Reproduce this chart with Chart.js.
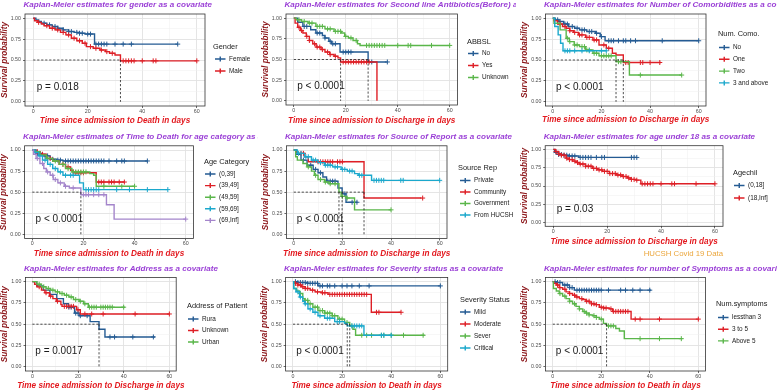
<!DOCTYPE html>
<html>
<head>
<meta charset="utf-8">
<script src="https://cdn.jsdelivr.net/npm/chart.js@4/dist/chart.umd.min.js"></script>
<style>
  body { margin: 0; background: #fff; }
  #board { position: relative; width: 777px; height: 392px; overflow: hidden; }
  .panel { position: absolute; }
</style>
</head>
<body>
<div id="board"></div>
<script>
// Kaplan-Meier panels (HUCSH Covid 19 data)

const FONT = '"Liberation Sans", Arial, sans-serif';
const BLUE = '#245b93', RED = '#de1f26', GREEN = '#5ab64a', TEAL = '#1ba8cc', PURPLE = '#a485cb';

// axis ticks
const xTicks = [0, 10, 20, 30, 40, 50, 60];
const xTickLabels = ['0', '', '20', '', '40', '', '60'];
const yTicks = [0, 0.125, 0.25, 0.375, 0.5, 0.625, 0.75, 0.875, 1];
const yTickLabels = ['0.00', '', '0.25', '', '0.50', '', '0.75', '', '1.00'];

// ---- gender ----
const genderLabels = ['Female', 'Male'];
const genderFemale = [[0,1],[1,0.98],[2,0.96],[3,0.94],[5,0.92],[7,0.9],[9,0.88],[11,0.86],[13,0.84],[15,0.83],[17,0.82],[19,0.81],[22.5,0.69],[53,0.69]];
const genderFemaleCens = [4, 6, 8, 9, 11, 13, 14, 16, 17, 18, 20, 21, 23, 24, 25, 26, 27, 30, 33, 36, 53];
const genderMale = [[0,1],[0.5,0.97],[1.5,0.95],[3,0.93],[4,0.91],[6,0.88],[8,0.86],[10,0.83],[12,0.8],[14,0.76],[16,0.73],[18,0.7],[19.5,0.66],[22,0.64],[24.5,0.62],[26.5,0.6],[28,0.58],[30,0.56],[32,0.49],[60,0.49]];
const genderMaleCens = [2, 5, 7, 9, 11, 13, 15, 17, 19, 21, 23, 25, 27, 29, 33, 34, 35, 36, 37, 40, 44, 45, 60];
const genderMedians = [32];

// ---- second line antibiotics ----
const abbslLabels = ['No', 'Yes', 'Unknown'];
const abbslNo = [[0,1],[1.5,0.95],[3.5,0.9],[6.5,0.86],[8.5,0.82],[11,0.79],[12,0.76],[13.5,0.72],[14.5,0.69],[17.8,0.59],[28.6,0.47],[35.8,0.47]];
const abbslNoCens = [4, 5, 9, 10, 12, 14, 15, 16, 19, 20, 21, 22, 30, 36];
const abbslYes = [[0,1],[0.5,0.94],[1.5,0.89],[2.5,0.85],[3.5,0.82],[4.8,0.78],[6,0.73],[7.3,0.69],[8.6,0.65],[10.5,0.62],[12,0.59],[13.8,0.56],[15.5,0.54],[17,0.52],[18,0.47],[32,0]];
const abbslYesCens = [2, 3, 5, 6, 8, 9, 10, 11, 13, 14, 16, 19, 20, 21, 22, 23, 24, 25, 26, 27, 28, 29];
const abbslUnknown = [[0,1],[1,0.98],[3,0.96],[5.5,0.94],[8.5,0.9],[12,0.87],[15.5,0.84],[18.3,0.82],[19.6,0.78],[21,0.76],[22.8,0.73],[24.5,0.69],[25.5,0.67],[60,0.67]];
const abbslUnknownCens = [2, 4, 6, 7, 9, 10, 11, 13, 14, 16, 17, 18, 20, 22, 24, 28, 29, 30, 31, 32, 33, 34, 35, 40, 44, 45, 53, 60];
const abbslMedians = [18, 28.6];

// ---- number of comorbidities ----
const comoLabels = ['No', 'One', 'Two', '3 and above'];
const comoNo = [[0,1],[1,0.98],[2.5,0.96],[4.5,0.93],[6.5,0.9],[9,0.88],[11,0.86],[14,0.84],[17.5,0.82],[19.5,0.78],[21.5,0.73],[60,0.73]];
const comoNoCens = [2, 3, 5, 6, 8, 10, 12, 13, 15, 16, 18, 20, 23, 24, 25, 27, 29, 30, 32, 34, 45, 60];
const comoOne = [[0,1],[0.5,0.97],[2,0.93],[4,0.9],[5.5,0.88],[7,0.85],[8.5,0.83],[10.5,0.8],[13.5,0.77],[16.5,0.74],[19,0.68],[22,0.64],[24.5,0.58],[26,0.56],[29,0.47],[44.5,0.47]];
const comoOneCens = [3, 5, 7, 9, 11, 12, 14, 15, 17, 18, 21, 23, 30, 31, 36, 37, 40, 44];
const comoTwo = [[0,1],[0.5,0.94],[3,0.86],[5.5,0.76],[6.8,0.72],[8.8,0.68],[11,0.66],[13.5,0.62],[16.5,0.58],[19,0.55],[26,0.48],[31.5,0.32],[53,0.32]];
const comoTwoCens = [6, 7, 9, 10, 12, 13, 14, 15, 17, 18, 20, 21, 22, 23, 24, 27, 28, 36, 53];
const comoThree = [[0,1],[0.8,0.9],[2.2,0.8],[3.2,0.7],[4.2,0.61],[22,0.61]];
const comoThreeCens = [5, 6, 7, 9, 12, 15, 20, 22];
const comoMedians = [26, 29];

// ---- age category ----
const ageLabels = ['(0,39]', '(39,49]', '(49,59]', '(59,69]', '(69,Inf]'];
const ageA = [[0,1],[1.5,0.96],[4,0.93],[7,0.89],[9.5,0.88],[12,0.87],[45,0.87]];
const ageACens = [2, 3, 5, 6, 8, 10, 11, 13, 14, 15, 16, 17, 18, 19, 20, 21, 22, 23, 24, 25, 26, 27, 28, 30, 33, 35, 36, 45];
const ageB = [[0,1],[1,0.98],[3,0.95],[5.5,0.9],[8,0.87],[10.5,0.83],[13,0.8],[15,0.76],[16,0.73],[25,0.62],[36,0.62]];
const ageBCens = [2, 4, 7, 12, 14, 17, 18, 19, 20, 26, 27, 28, 30, 31, 32, 34, 36];
const ageC = [[0,1],[1,0.98],[3,0.94],[5.5,0.9],[8,0.87],[10.5,0.83],[13,0.78],[15.5,0.74],[22.5,0.72],[24,0.7],[25,0.57],[40,0.57]];
const ageCCens = [6, 9, 12, 14, 16, 17, 18, 19, 20, 21, 28, 35, 40];
const ageD = [[0,1],[1,0.97],[2.5,0.93],[4,0.88],[6,0.83],[8,0.78],[10,0.74],[12,0.7],[18.5,0.61],[20,0.53],[53,0.53]];
const ageDCens = [3, 5, 7, 9, 11, 13, 15, 16, 21, 22, 23, 24, 25, 26, 33, 38, 45, 53];
const ageE = [[0,1],[0.5,0.95],[1.5,0.9],[3,0.84],[4.5,0.78],[5.5,0.74],[7,0.7],[8.2,0.65],[10,0.61],[12.5,0.57],[14.5,0.55],[19,0.47],[29,0.35],[32,0.18],[60,0.18]];
const ageECens = [2, 4, 6, 8, 9, 11, 13, 16, 20, 21, 22, 24, 26, 28, 60];
const ageMedians = [19];

// ---- source of report ----
const srcLabels = ['Private', 'Community', 'Government', 'From HUCSH'];
const srcPrivate = [[0,1],[1,0.95],[3,0.88],[5.5,0.82],[8,0.77],[10,0.73],[12,0.68],[13.5,0.63],[18.2,0.55],[19.9,0.48],[21.5,0.38],[26.2,0.38]];
const srcPrivateCens = [4, 7, 9, 11, 14, 15, 16, 17, 21, 24, 26];
const srcCommunity = [[0,1],[1,0.96],[4.5,0.92],[6,0.86],[28.9,0.43],[52.5,0.43]];
const srcCommunityCens = [3, 4, 10, 11, 12, 13, 14, 15, 16, 18, 19, 20, 53];
const srcGov = [[0,1],[0.8,0.92],[1.5,0.88],[3.8,0.84],[5.5,0.8],[7.3,0.75],[8.5,0.7],[10,0.65],[12.7,0.62],[14.5,0.6],[18.6,0.5],[19.5,0.45],[21.5,0.43],[25,0.29],[40,0.29]];
const srcGovCens = [6, 9, 11, 13, 15, 17, 20, 22, 40];
const srcHucsh = [[0,1],[1.5,0.96],[4.5,0.92],[7.3,0.88],[10,0.85],[12.7,0.82],[16,0.8],[19.5,0.77],[22,0.75],[25,0.72],[26.5,0.7],[32,0.64],[60,0.64]];
const srcHucshCens = [2, 3, 5, 6, 8, 9, 11, 13, 14, 15, 17, 18, 20, 21, 23, 24, 27, 28, 33, 34, 35, 36, 37, 44, 45, 60];
const srcMedians = [18.6, 19.9, 28.9];

// ---- age under 18 ----
const chilLabels = ['(0,18]', '(18,Inf]'];
const chilYoung = [[0,1],[0.5,0.96],[2,0.93],[4,0.92],[5.5,0.91],[9.5,0.89],[31,0.89]];
const chilYoungCens = [1, 2, 3, 4, 5, 6, 7, 8, 10, 11, 12, 13, 14, 16, 18, 19, 29, 30, 31];
const chilAdult = [[0,1],[0.8,0.97],[2,0.94],[3,0.92],[4.7,0.88],[6,0.86],[7.2,0.84],[8.5,0.82],[9.6,0.8],[12,0.77],[14.5,0.74],[16.5,0.72],[18.3,0.7],[20.8,0.67],[23.3,0.65],[25.7,0.63],[27.5,0.61],[28.8,0.59],[30.7,0.58],[32.5,0.53],[60,0.53]];
const chilAdultCens = [1, 2, 3, 4, 5, 6, 7, 8, 9, 10, 11, 12, 13, 14, 15, 16, 17, 18, 19, 20, 21, 22, 23, 24, 25, 26, 27, 28, 29, 30, 31, 33, 34, 35, 36, 37, 40, 44, 45, 53, 60];
const chilMedians = [];

// ---- address ----
const addrLabels = ['Rura', 'Unknown', 'Urban'];
const addrRura = [[0,1],[1.9,0.95],[4.8,0.9],[7.7,0.85],[10.7,0.8],[13.6,0.74],[15.8,0.7],[18.5,0.63],[20.5,0.6],[25.3,0.53],[29.2,0.44],[31.8,0.35],[53.7,0.35]];
const addrRuraCens = [16, 17, 19, 20, 21, 24, 34, 36, 44, 53];
const addrUnknown = [[0,1],[1,0.97],[2,0.94],[4,0.9],[5.5,0.87],[7.5,0.83],[9,0.8],[10.5,0.77],[12.5,0.73],[13,0.71],[19.4,0.67],[21,0.62],[60,0.62]];
const addrUnknownCens = [3, 6, 8, 11, 14, 15, 16, 17, 18, 20, 23, 26, 31, 45, 60];
const addrUrban = [[0,1],[2,0.97],[4,0.94],[6,0.92],[8,0.9],[10,0.88],[12,0.86],[14,0.84],[16,0.82],[18,0.79],[20.5,0.77],[22.5,0.74],[24.5,0.7],[40.5,0.7]];
const addrUrbanCens = [3, 5, 7, 9, 11, 13, 15, 17, 19, 21, 23, 25, 26, 27, 28, 30, 31, 32, 33, 34, 35, 40];
const addrMedians = [29.2];

// ---- severity ----
const sevLabels = ['Mild', 'Moderate', 'Sever', 'Critical'];
const sevMild = [[0,1],[2,0.99],[6,0.98],[10.2,0.95],[60,0.95]];
const sevMildCens = [1, 2, 3, 4, 5, 6, 7, 8, 9, 10, 11, 12, 14, 15, 17, 20, 22, 24, 27, 31, 60];
const sevModerate = [[0,1],[0.7,0.98],[2,0.96],[3.4,0.94],[5,0.92],[7,0.9],[9,0.88],[11.5,0.87],[14.3,0.85],[31.9,0.64],[44,0.64]];
const sevModerateCens = [1, 2, 3, 4, 5, 6, 8, 10, 12, 13, 15, 16, 17, 18, 19, 20, 21, 22, 23, 24, 25, 26, 27, 28, 29, 30, 34, 35, 44];
const sevSever = [[0,1],[0.3,0.92],[1.5,0.89],[2.7,0.86],[4,0.8],[4.8,0.78],[6.1,0.74],[8.1,0.7],[10.2,0.66],[12.9,0.63],[16,0.6],[18.3,0.56],[21,0.52],[23.1,0.48],[24.4,0.44],[25.5,0.37],[53.6,0.37]];
const sevSeverCens = [3, 5, 6, 7, 9, 10, 11, 12, 13, 14, 15, 16, 17, 19, 20, 22, 24, 28, 30, 32, 36, 37, 40, 45, 53];
const sevCritical = [[0,1],[0.3,0.92],[1.2,0.88],[2.7,0.82],[4,0.77],[4.8,0.74],[6.1,0.68],[8.1,0.64],[10.2,0.6],[12.9,0.57],[17,0.53],[21,0.51],[22.1,0.48],[28.9,0.37],[40,0.37]];
const sevCriticalCens = [2, 3, 5, 7, 9, 11, 14, 15, 18, 19, 24, 25, 26, 27, 28, 36, 37, 40];
const sevMedians = [22.1, 23.1];

// ---- number of symptoms ----
const symLabels = ['lessthan 3', '3 to 5', 'Above 5'];
const symLow = [[0,1],[1.5,0.99],[4.1,0.96],[6.9,0.93],[8.9,0.9],[40.5,0.9]];
const symLowCens = [1, 2, 3, 5, 6, 7, 8, 10, 11, 12, 13, 14, 15, 16, 17, 18, 19, 20, 23, 28, 30, 33, 36, 40];
const symMid = [[0,1],[0.5,0.98],[1.5,0.96],[2.7,0.93],[4.1,0.91],[5.5,0.88],[6.9,0.86],[8.2,0.84],[9.6,0.82],[11,0.8],[12.4,0.79],[13.7,0.77],[15.1,0.76],[16,0.74],[17.2,0.73],[19.2,0.7],[21,0.69],[23.3,0.68],[24.7,0.65],[32.3,0.56],[60,0.56]];
const symMidCens = [2, 3, 5, 7, 9, 10, 12, 14, 15, 16, 17, 18, 20, 21, 22, 24, 25, 26, 27, 28, 29, 30, 31, 34, 36, 44, 60];
const symHigh = [[0,1],[0.3,0.92],[1.5,0.89],[2.7,0.86],[4.1,0.83],[5.5,0.8],[6.9,0.77],[8.2,0.74],[9.6,0.71],[11,0.68],[12.4,0.65],[13.7,0.63],[15,0.61],[16.5,0.6],[18,0.58],[19.2,0.56],[20.9,0.51],[22.2,0.48],[26,0.45],[27.5,0.42],[29.5,0.33],[53.5,0.33]];
const symHighCens = [3, 5, 7, 9, 11, 13, 14, 15, 17, 18, 20, 23, 24, 25, 36, 44, 53];
const symMedians = [22.2];

const DEATH = 'Time since admission to Death in days';
const DISCH = 'Time since admission to Discharge in days';

// panel layout: position on the page, plot box [left, top, right, bottom],
// legend [titleX, titleY, keyX, firstItemY, itemStep]
const panels = [
    { x: 0, y: 0, w: 258, h: 130, plot: [25, 14, 205, 106], titleY: 5, xTitleY: 121,
      title: 'Kaplan-Meier estimates for gender as a covariate', xTitle: DEATH,
      legendTitle: 'Gender', legend: [213, 47, 215, 59, 12], pval: 'p = 0.018', medians: genderMedians,
      groups: [[genderLabels[0], BLUE, genderFemale, genderFemaleCens], [genderLabels[1], RED, genderMale, genderMaleCens]] },
    { x: 258, y: 0, w: 258, h: 130, plot: [28, 14, 199.5, 105], titleY: 5, xTitleY: 121,
      title: 'Kaplan-Meier estimates for Second line Antibiotics(Before) as a covariate', xTitle: DISCH,
      legendTitle: 'ABBSL', legend: [209, 42, 210, 53.5, 12], pval: 'p < 0.0001', medians: abbslMedians,
      groups: [[abbslLabels[0], BLUE, abbslNo, abbslNoCens], [abbslLabels[1], RED, abbslYes, abbslYesCens],
               [abbslLabels[2], GREEN, abbslUnknown, abbslUnknownCens]] },
    { x: 516, y: 0, w: 261, h: 130, plot: [29.5, 14, 190, 106], titleY: 5, xTitleY: 120,
      title: 'Kaplan-Meier estimates for Number of Comorbidities as a covariate', xTitle: DISCH,
      legendTitle: 'Num. Como.', legend: [202, 34, 203, 47.5, 11.8], pval: 'p < 0.0001', medians: comoMedians,
      groups: [[comoLabels[0], BLUE, comoNo, comoNoCens], [comoLabels[1], RED, comoOne, comoOneCens],
               [comoLabels[2], GREEN, comoTwo, comoTwoCens], [comoLabels[3], TEAL, comoThree, comoThreeCens]] },
    { x: 0, y: 130, w: 258, h: 130, plot: [24.6, 15.8, 193.4, 108.5], titleY: 7, xTitleY: 124,
      title: 'Kaplan-Meier estimates of Time to Death for age category as a covariate', xTitle: DEATH,
      legendTitle: 'Age Category', legend: [204, 32, 205, 44, 11.6], pval: 'p < 0.0001', medians: ageMedians,
      groups: [[ageLabels[0], BLUE, ageA, ageACens], [ageLabels[1], RED, ageB, ageBCens], [ageLabels[2], GREEN, ageC, ageCCens],
               [ageLabels[3], TEAL, ageD, ageDCens], [ageLabels[4], PURPLE, ageE, ageECens]] },
    { x: 258, y: 130, w: 258, h: 130, plot: [28.4, 15.8, 189, 108.5], titleY: 7, xTitleY: 124,
      title: 'Kaplan-Meier estimates for Source of Report as a covariate', xTitle: DISCH,
      legendTitle: 'Source Rep', legend: [200, 38, 202, 50.5, 11.5], pval: 'p < 0.0001', medians: srcMedians,
      groups: [[srcLabels[0], BLUE, srcPrivate, srcPrivateCens], [srcLabels[1], RED, srcCommunity, srcCommunityCens],
               [srcLabels[2], GREEN, srcGov, srcGovCens], [srcLabels[3], TEAL, srcHucsh, srcHucshCens]] },
    { x: 516, y: 130, w: 261, h: 130, plot: [29.2, 15.7, 207, 96.3], titleY: 7, xTitleY: 111.7,
      title: 'Kaplan-Meier estimates for age under 18 as a covariate', xTitle: DISCH, caption: 'HUCSH Covid 19 Data',
      legendTitle: 'Agechil', legend: [217, 43, 218, 55.5, 12.5], pval: 'p = 0.03', medians: chilMedians,
      groups: [[chilLabels[0], BLUE, chilYoung, chilYoungCens], [chilLabels[1], RED, chilAdult, chilAdultCens]] },
    { x: 0, y: 260, w: 258, h: 132, plot: [25.5, 17.4, 176.2, 111], titleY: 8.3, xTitleY: 126,
      title: 'Kaplan-Meier estimates for Address as a covariate', xTitle: DISCH,
      legendTitle: 'Address of Patient', legend: [187, 46, 188, 59, 11.5], pval: 'p = 0.0017', medians: addrMedians,
      groups: [[addrLabels[0], BLUE, addrRura, addrRuraCens], [addrLabels[1], RED, addrUnknown, addrUnknownCens],
               [addrLabels[2], GREEN, addrUrban, addrUrbanCens]] },
    { x: 258, y: 260, w: 258, h: 132, plot: [27.6, 17.4, 189.7, 111], titleY: 8.3, xTitleY: 126,
      title: 'Kaplan-Meier estimates for Severity status as a covariate', xTitle: DEATH,
      legendTitle: 'Severity Status', legend: [202, 39.5, 202, 52, 12], pval: 'p < 0.0001', medians: sevMedians,
      groups: [[sevLabels[0], BLUE, sevMild, sevMildCens], [sevLabels[1], RED, sevModerate, sevModerateCens],
               [sevLabels[2], GREEN, sevSever, sevSeverCens], [sevLabels[3], TEAL, sevCritical, sevCriticalCens]] },
    { x: 516, y: 260, w: 261, h: 132, plot: [29.4, 17.4, 189.6, 111], titleY: 8.3, xTitleY: 126,
      title: 'Kaplan-Meier estimates for number of Symptoms as a covariate', xTitle: DEATH,
      legendTitle: 'Num.symptoms', legend: [200, 44, 202, 57.5, 11.7], pval: 'p < 0.0001', medians: symMedians,
      groups: [[symLabels[0], BLUE, symLow, symLowCens], [symLabels[1], RED, symMid, symMidCens],
               [symLabels[2], GREEN, symHigh, symHighCens]] }
];

Chart.defaults.font.family = FONT;

// survival level of a step curve at time t (used to sit the censor marks on the curve)
function survAt(steps, t) {
    let s = steps[0][1];
    for (const [x, y] of steps) {
        if (x <= t) s = y; else break;
    }
    return s;
}

function medianPoints(medians) {
    if (!medians.length) return [];
    const pts = [{ x: 0, y: 0.5 }, { x: Math.max(...medians), y: 0.5 }, { x: 0, y: null }];
    medians.forEach(m => {
        pts.push({ x: m, y: 0.5 }, { x: m, y: 0 }, { x: m, y: null });
    });
    return pts;
}

// titles, legend, p-value and panel border
function makeDeco(p) {
    return {
        id: 'kmDeco',
        afterDraw(chart) {
            const { ctx, chartArea: a, scales } = chart;
            ctx.save();
            ctx.strokeStyle = '#333';
            ctx.lineWidth = 0.8;
            ctx.strokeRect(a.left, a.top, a.right - a.left, a.bottom - a.top);

            ctx.textBaseline = 'middle';
            ctx.textAlign = 'left';
            ctx.font = 'italic bold 8.1px ' + FONT;
            ctx.fillStyle = '#9a3fd6';
            ctx.fillText(p.title, a.left - 1.5, p.titleY);

            ctx.textAlign = 'center';
            ctx.font = 'italic bold 8.2px ' + FONT;
            ctx.fillStyle = '#e3191f';
            ctx.fillText(p.xTitle, (a.left + a.right) / 2, p.xTitleY);

            ctx.save();
            ctx.translate(a.left - 20.5, (a.top + a.bottom) / 2);
            ctx.rotate(-Math.PI / 2);
            ctx.fillStyle = '#8b1418';
            ctx.fillText('Survival probability', 0, 0);
            ctx.restore();

            ctx.textAlign = 'left';
            ctx.font = '10px ' + FONT;
            ctx.fillStyle = '#1a1a1a';
            ctx.fillText(p.pval, scales.x.getPixelForValue(1.3), scales.y.getPixelForValue(0.18));

            if (p.caption) {
                ctx.textAlign = 'right';
                ctx.font = '7.8px ' + FONT;
                ctx.fillStyle = '#eba63c';
                ctx.fillText(p.caption, a.right, 124);
            }

            // legend
            const [tx, ty, kx, y0, dy] = p.legend;
            ctx.textAlign = 'left';
            ctx.font = '7.4px ' + FONT;
            ctx.fillStyle = '#1a1a1a';
            ctx.fillText(p.legendTitle, tx, ty);
            ctx.font = '6.4px ' + FONT;
            p.groups.forEach(([label, col], i) => {
                const yy = y0 + i * dy;
                ctx.strokeStyle = col;
                ctx.lineWidth = 1.4;
                ctx.beginPath();
                ctx.moveTo(kx, yy);
                ctx.lineTo(kx + 10.5, yy);
                ctx.moveTo(kx + 5.25, yy - 2.5);
                ctx.lineTo(kx + 5.25, yy + 2.5);
                ctx.stroke();
                ctx.fillStyle = '#1a1a1a';
                ctx.fillText(label, kx + 14, yy);
            });
            ctx.restore();
        }
    };
}

function buildPanel(p) {
    const div = document.createElement('div');
    div.className = 'panel';
    div.style.left = p.x + 'px';
    div.style.top = p.y + 'px';
    div.style.width = p.w + 'px';
    div.style.height = p.h + 'px';
    const canvas = document.createElement('canvas');
    canvas.width = p.w;
    canvas.height = p.h;
    canvas.style.width = p.w + 'px';
    canvas.style.height = p.h + 'px';
    div.appendChild(canvas);
    document.getElementById('board').appendChild(div);

    const [pl, pt, pr, pb] = p.plot;
    const n = p.groups.length;
    const datasets = [];
    p.groups.forEach(([label, col, steps, cens], k) => {
        datasets.push({
            type: 'line', label: label,
            data: steps.map(([x, y]) => ({ x, y })),
            borderColor: col, borderWidth: 1.4, stepped: true,
            pointRadius: 0, fill: false, order: n - k
        });
        datasets.push({
            type: 'scatter', label: label + ' censored',
            data: cens.map(t => ({ x: t, y: survAt(steps, t) })),
            pointStyle: 'cross', pointRadius: 2.5, borderColor: col, borderWidth: 1,
            order: n - k
        });
    });
    datasets.push({
        type: 'line', label: 'median',
        data: medianPoints(p.medians),
        borderColor: '#222', borderWidth: 0.8, borderDash: [2.2, 1.8],
        pointRadius: 0, spanGaps: false, fill: false, order: -1
    });

    const gridColor = (labels) => (c) => labels[c.index] ? '#e2e2e2' : '#efefef';
    const gridWidth = (labels) => (c) => labels[c.index] ? 0.9 : 0.5;
    const tickColor = (labels) => (c) => labels[c.index] ? '#444' : 'rgba(0,0,0,0)';

    new Chart(canvas, {
        type: 'line',
        data: { datasets },
        options: {
            responsive: false,
            animation: false,
            layout: { padding: { left: 0, top: pt, right: p.w - pr, bottom: 0 } },
            plugins: { legend: { display: false }, tooltip: { enabled: false }, title: { display: false } },
            scales: {
                x: {
                    type: 'linear', min: -3, max: 63,
                    afterBuildTicks: s => { s.ticks = xTicks.map(v => ({ value: v })); },
                    afterFit: s => { s.height = p.h - pb; },
                    ticks: {
                        autoSkip: false, maxRotation: 0, minRotation: 0, padding: 0,
                        color: '#4d4d4d', font: { size: 5.3 },
                        callback: (v, i) => xTickLabels[i]
                    },
                    grid: { color: gridColor(xTickLabels), lineWidth: gridWidth(xTickLabels),
                            tickLength: 2, tickWidth: 0.8, tickColor: tickColor(xTickLabels) },
                    border: { display: false }
                },
                y: {
                    type: 'linear', min: -0.05, max: 1.05,
                    afterBuildTicks: s => { s.ticks = yTicks.map(v => ({ value: v })); },
                    afterFit: s => { s.width = pl; },
                    ticks: {
                        autoSkip: false, padding: 2,
                        color: '#4d4d4d', font: { size: 5.3 },
                        callback: (v, i) => yTickLabels[i]
                    },
                    grid: { color: gridColor(yTickLabels), lineWidth: gridWidth(yTickLabels),
                            tickLength: 2, tickWidth: 0.8, tickColor: tickColor(yTickLabels) },
                    border: { display: false }
                }
            }
        },
        plugins: [makeDeco(p)]
    });
}

panels.forEach(buildPanel);
</script>
</body>
</html>
